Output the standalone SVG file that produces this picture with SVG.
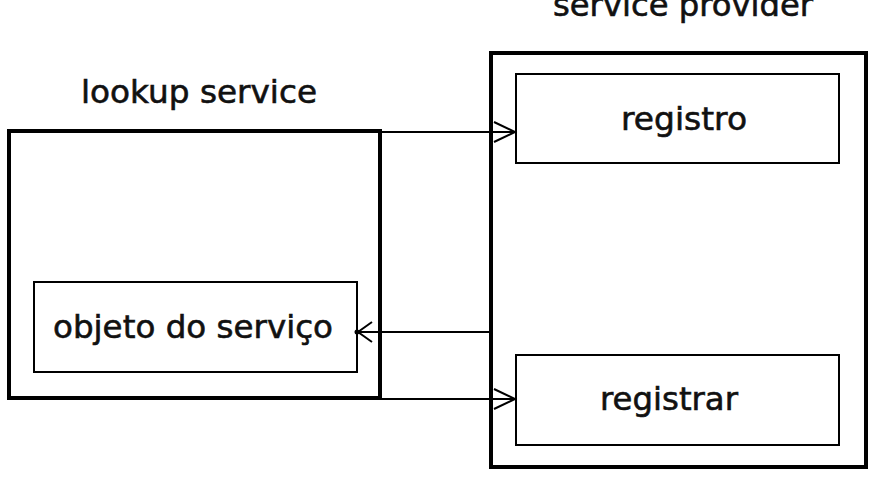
<svg xmlns="http://www.w3.org/2000/svg" width="873" height="477" viewBox="0 0 873 477">
<style>
.outer{fill:none;stroke:#000;stroke-width:4}
.inner{fill:none;stroke:#000;stroke-width:2}
.lbl{font-family:"DejaVu Sans",Verdana,sans-serif;font-size:32px;fill:#111;stroke:#111;stroke-width:0.6}
.conn{fill:none;stroke:#000;stroke-width:2}
.head{fill:none;stroke:#000;stroke-width:2}
</style>
<rect width="873" height="477" fill="#fff"/>
<g id="lookup-service">
<rect class="outer" x="9" y="131" width="371" height="267"/>
<text class="lbl" x="199" y="103" text-anchor="middle" textLength="236" lengthAdjust="spacingAndGlyphs">lookup service</text>
</g>
<g id="objeto-do-servico">
<rect class="inner" x="34" y="282" width="323" height="90"/>
<text class="lbl" x="193" y="338" text-anchor="middle" textLength="280" lengthAdjust="spacingAndGlyphs">objeto do serviço</text>
</g>
<g id="service-provider">
<rect class="outer" x="491" y="53" width="375" height="414"/>
<text class="lbl" x="683" y="16" text-anchor="middle" textLength="260" lengthAdjust="spacingAndGlyphs">service provider</text>
</g>
<g id="registro">
<rect class="inner" x="516" y="74" width="323" height="89"/>
<text class="lbl" x="684" y="130" text-anchor="middle" textLength="126" lengthAdjust="spacingAndGlyphs">registro</text>
</g>
<g id="registrar">
<rect class="inner" x="516" y="355" width="323" height="90"/>
<text class="lbl" x="669" y="410" text-anchor="middle" textLength="138" lengthAdjust="spacingAndGlyphs">registrar</text>
</g>
<g id="connectors">
<path class="conn" d="M381 132 H515"/>
<path class="head" d="M494 122 L515 132 L494 142"/>
<path class="conn" d="M489 332 H358"/>
<path class="head" d="M372 322 L358 332 L372 342"/>
<circle cx="357" cy="332" r="2.5" fill="#000"/>
<path class="conn" d="M381 399 H515"/>
<path class="head" d="M494 389 L515 399 L494 409"/>
</g>
</svg>
